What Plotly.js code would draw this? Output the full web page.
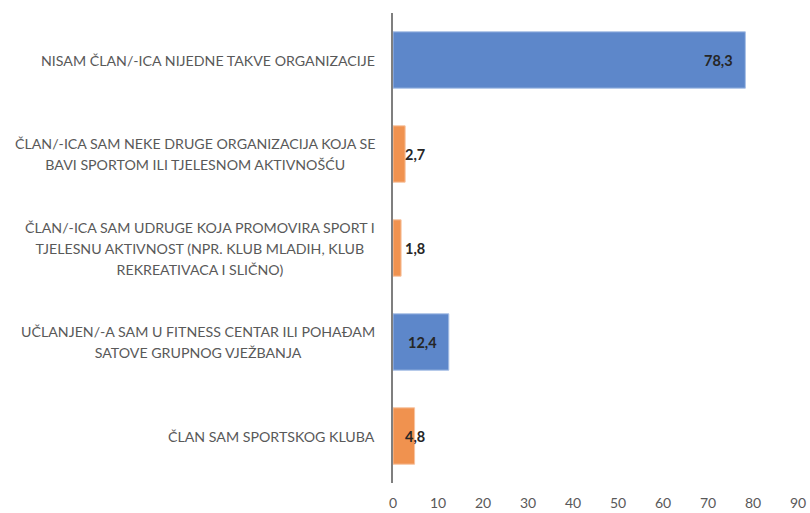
<!DOCTYPE html>
<html>
<head>
<meta charset="utf-8">
<script src="https://cdn.plot.ly/plotly-3.0.1.min.js"></script>
<style>html,body{margin:0;padding:0;background:#fff;}#chart{width:810px;height:513px;}</style>
</head>
<body>
<div id="chart"></div>
<script>
// Categories listed bottom to top (Plotly category order)
const categories = [
  "ČLAN SAM SPORTSKOG KLUBA",
  "UČLANJEN/-A SAM U FITNESS CENTAR ILI POHAĐAM\nSATOVE GRUPNOG VJEŽBANJA",
  "ČLAN/-ICA SAM UDRUGE KOJA PROMOVIRA SPORT I\nTJELESNU AKTIVNOST (NPR. KLUB MLADIH, KLUB\nREKREATIVACA I SLIČNO)",
  "ČLAN/-ICA SAM NEKE DRUGE ORGANIZACIJA KOJA SE\nBAVI SPORTOM ILI TJELESNOM AKTIVNOŠĆU",
  "NISAM ČLAN/-ICA NIJEDNE TAKVE ORGANIZACIJE"
];
const values = [4.8, 12.4, 1.8, 2.7, 78.3];
const seriesGroup = ["orange", "blue", "orange", "orange", "blue"];
const xTicks = [0, 10, 20, 30, 40, 50, 60, 70, 80, 90];

const palette = { blue: "#5d87ca", orange: "#f0924f" };
const borderPalette = { blue: "#a9c0e6", orange: "#f7c3a0" };
const FONT = "Lato, 'Noto Sans', sans-serif";

const ids = categories.map((c, i) => "c" + i);

const trace = {
  type: "bar",
  orientation: "h",
  x: values,
  y: ids,
  width: 0.6,
  marker: {
    color: seriesGroup.map(g => palette[g]),
    line: { color: seriesGroup.map(g => borderPalette[g]), width: 1 }
  },
  hoverinfo: "skip"
};

const annotations = [];
categories.forEach((c, i) => {
  const lines = c.split("\n").map(l => '<span style="font-size:14.2px">' + l + '</span>');
  annotations.push({
    xref: "paper", yref: "y", x: 0, y: ids[i],
    xanchor: "right", yanchor: "middle", xshift: -16,
    text: lines.join("<br>"), align: "center", showarrow: false,
    font: { family: FONT, size: 16, color: "#595959" }
  });
});
values.forEach((v, i) => {
  const big = v >= 10;
  annotations.push({
    xref: "x", yref: "y", x: big ? v : 0, y: ids[i],
    xanchor: big ? "right" : "left", yanchor: "middle",
    xshift: big ? -10 : 10,
    text: v.toFixed(1).replace(".", ","), showarrow: false,
    font: { family: FONT, size: 14.5, color: "#262626", weight: "bold" }
  });
});

const layout = {
  width: 810, height: 513,
  margin: { l: 393, r: 12, t: 13, b: 30 },
  paper_bgcolor: "#fff", plot_bgcolor: "#fff",
  showlegend: false,
  bargap: 0.4,
  font: { family: FONT, color: "#595959" },
  xaxis: {
    range: [0, 90], tickvals: xTicks, ticktext: xTicks.map(String),
    showgrid: false, zeroline: false, showline: false, ticks: "",
    tickfont: { family: FONT, size: 14, color: "#595959" },
    ticklabelstandoff: 10, fixedrange: true
  },
  yaxis: {
    categoryorder: "array", categoryarray: ids,
    showticklabels: false, showgrid: false, zeroline: false,
    showline: true, linecolor: "#7f7f7f", linewidth: 2, ticks: "",
    fixedrange: true
  },
  annotations: annotations
};

Plotly.newPlot("chart", [trace], layout, { displayModeBar: false, staticPlot: true });
</script>
</body>
</html>
